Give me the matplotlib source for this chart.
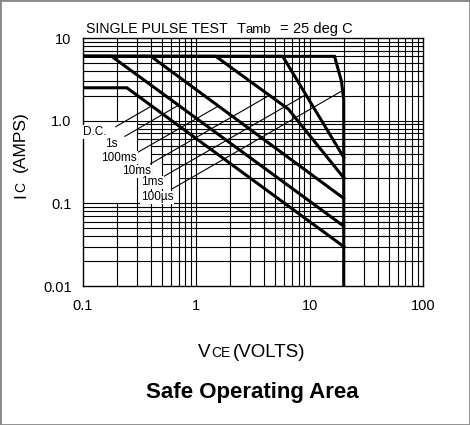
import matplotlib
matplotlib.use("Agg")
import matplotlib.pyplot as plt
from matplotlib.patches import Rectangle

plt.rcParams['font.family'] = ['Liberation Sans', 'DejaVu Sans']

# SOA boundaries: VCE (volts) / IC (amps)
dc_v = [0.1, 0.245, 20]
dc_i = [2.5, 2.5, 0.030]
s1_v = [0.1, 0.18, 20]
s1_i = [6, 6, 0.053]
ms100_v = [0.1, 0.40, 20]
ms100_i = [6, 6, 0.115]
ms10_v = [0.1, 1.49, 6.5, 20]
ms10_i = [6, 6, 1.38, 0.204]
ms1_v = [0.1, 5.8, 20]
ms1_i = [6, 6, 0.36]
us100_v = [0.1, 16.6, 19.1, 20, 20]
us100_i = [6, 6, 3.0, 1.8, 0.01]

curves = [(dc_v, dc_i), (s1_v, s1_i), (ms100_v, ms100_i),
          (ms10_v, ms10_i), (ms1_v, ms1_i), (us100_v, us100_i)]

# curve labels and their leader lines
labels = ['D.C.', '1s', '100ms', '10ms', '1ms', '100µs']
label_v = [0.128, 0.177, 0.209, 0.298, 0.407, 0.451]
label_i = [0.727, 0.528, 0.358, 0.243, 0.179, 0.118]
lead_v0 = [0.196, 0.236, 0.307, 0.397, 0.496, 0.607]
lead_i0 = [0.847, 0.647, 0.415, 0.301, 0.204, 0.148]
lead_v1 = [0.40, 0.70, 1.58, 4.4, 9.3, 19.4]
lead_i1 = [1.49, 1.54, 1.51, 2.02, 2.07, 2.3]

x_ticks = [0.1, 1, 10, 100]
x_ticklabels = ['0.1', '1', '10', '100']
y_ticks = [0.01, 0.1, 1, 10]
y_ticklabels = ['0.01', '0.1', '1.0', '10']

W, H = 470, 425
fig = plt.figure(figsize=(W / 100, H / 100), dpi=100)
ax = fig.add_axes([82.7 / W, 1 - 286 / H, (423 - 82.7) / W, (286 - 38) / H])
ax.set_xscale('log')
ax.set_yscale('log')
ax.set_xlim(0.1, 100)
ax.set_ylim(0.01, 10)

# grid, partly cut away behind the labels
gx = [m * 10.0 ** e for e in (-1, 0, 1) for m in range(1, 10)][1:]
gy = [m * 10.0 ** e for e in (-2, -1, 0) for m in range(1, 10)][1:]
hstart = {0.9: 0.3, 0.8: 0.3, 0.7: 0.3, 0.6: 0.3, 0.5: 0.4, 0.4: 0.4,
          0.3: 0.5, 0.2: 0.7}
for y in gy:
    ax.hlines(y, hstart.get(round(y, 3), 0.1), 100, color='black', lw=0.8, zorder=1)
for x in gx:
    if abs(x - 0.2) < 1e-9:
        ax.vlines(x, 0.01, 0.1, color='black', lw=0.8, zorder=1)
        ax.vlines(x, 1, 10, color='black', lw=0.8, zorder=1)
    else:
        ax.vlines(x, 0.01, 10, color='black', lw=0.8, zorder=1)

for v, i in curves:
    ax.plot(v, i, color='black', lw=2.2, solid_joinstyle='miter', zorder=3)

for k, lab in enumerate(labels):
    ax.plot([lead_v0[k], lead_v1[k]], [lead_i0[k], lead_i1[k]],
            color='black', lw=0.8, zorder=2)
    ax.text(label_v[k], label_i[k], lab, fontsize=8.5, ha='center', va='center',
            zorder=4, bbox=dict(facecolor='white', edgecolor='none', pad=0.5))

ax.set_xticks(x_ticks)
ax.set_xticklabels(x_ticklabels)
ax.set_yticks(y_ticks)
ax.set_yticklabels(y_ticklabels)
ax.minorticks_off()
ax.tick_params(length=0, labelsize=10.5)
ax.tick_params(axis='x', pad=9)
ax.tick_params(axis='y', pad=8)
for s in ax.spines.values():
    s.set_linewidth(1)

# header: "SINGLE PULSE TEST   Tamb = 25 deg C"
head = [('SINGLE PULSE TEST', 10.2, 86), ('T', 10.5, 236.7), ('amb', 9.5, 245.5),
        ('=', 10.5, 279.5), ('25 deg C', 10.5, 293)]
for s, size, left in head:
    fig.text(left / W, (H - 33) / H, s, fontsize=size, ha='left', va='baseline')

xlab = [('V', 13.5, 198), ('CE', 10, 211), ('(VOLTS)', 13.5, 233)]
for s, size, left in xlab:
    fig.text(left / W, (H - 357.3) / H, s, fontsize=size, ha='left', va='baseline')

ylab = [('I', 12.5, 198), ('C', 10, 192.5), ('(AMPS)', 12.5, 172)]
for s, size, top in ylab:
    fig.text(25 / W, (H - top) / H, s, fontsize=size, rotation=90,
             ha='left', va='baseline', rotation_mode='anchor')

fig.text(252.5 / W, 26.7 / H, 'Safe Operating Area', fontsize=16,
         fontweight='bold', ha='center', va='baseline')

fig.patches.append(Rectangle((0, 0), 1, 1, transform=fig.transFigure,
                             fill=False, edgecolor='#888888', lw=2))

fig.savefig('out.png', dpi=100)
